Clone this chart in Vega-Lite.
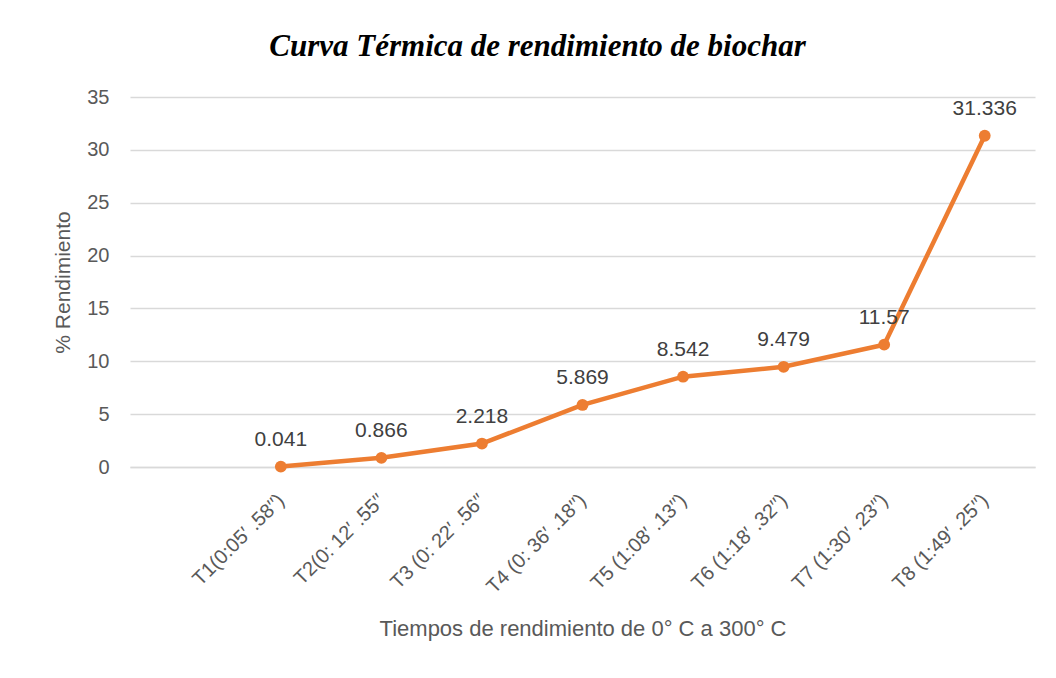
{
  "$schema": "https://vega.github.io/schema/vega-lite/v6.json",
  "width": 905,
  "height": 370,
  "autosize": {"type": "none"},
  "padding": {"left": 130, "top": 97, "right": 21, "bottom": 211},
  "background": "white",
  "config": {
    "view": {"stroke": null},
    "font": "Liberation Sans"
  },
  "title": {
    "text": "Curva Térmica de rendimiento de biochar",
    "font": "Liberation Serif",
    "fontSize": 31,
    "fontWeight": "bold",
    "fontStyle": "italic",
    "color": "#000000",
    "anchor": "middle",
    "dx": -45,
    "offset": 24
  },
  "data": {
    "values": [
      {"t": "T1(0:05′ .58′′)", "v": 0.041, "lab": "0.041"},
      {"t": "T2(0: 12′ .55′′", "v": 0.866, "lab": "0.866"},
      {"t": "T3 (0: 22′ .56′′", "v": 2.218, "lab": "2.218"},
      {"t": "T4 (0: 36′ .18′′)", "v": 5.869, "lab": "5.869"},
      {"t": "T5 (1:08′ .13′′)", "v": 8.542, "lab": "8.542"},
      {"t": "T6 (1:18′ .32′′)", "v": 9.479, "lab": "9.479"},
      {"t": "T7 (1:30′ .23′′)", "v": 11.57, "lab": "11.57"},
      {"t": "T8 (1:49′ .25′′)", "v": 31.336, "lab": "31.336"}
    ]
  },
  "encoding": {
    "x": {
      "field": "t",
      "type": "ordinal",
      "sort": null,
      "scale": {
        "domain": [" ", "T1(0:05′ .58′′)", "T2(0: 12′ .55′′", "T3 (0: 22′ .56′′", "T4 (0: 36′ .18′′)", "T5 (1:08′ .13′′)", "T6 (1:18′ .32′′)", "T7 (1:30′ .23′′)", "T8 (1:49′ .25′′)"],
        "paddingInner": 0,
        "paddingOuter": 0.5
      },
      "axis": {
        "title": "Tiempos de rendimiento de 0° C a 300° C",
        "titleFont": "Liberation Sans",
        "titleFontSize": 22,
        "titleFontWeight": "normal",
        "titleColor": "#595959",
        "titlePadding": 22,
        "labelAngle": -45,
        "labelAlign": "right",
        "labelBaseline": "middle",
        "labelFontSize": 20,
        "labelColor": "#595959",
        "labelPadding": 30,
        "labelLimit": 300,
        "ticks": false,
        "domainColor": "#D9D9D9",
        "domainWidth": 1.5,
        "grid": false
      }
    },
    "y": {
      "field": "v",
      "type": "quantitative",
      "scale": {"domain": [0, 35], "nice": false},
      "axis": {
        "title": "% Rendimiento",
        "titleFont": "Liberation Sans",
        "titleFontSize": 21,
        "titleFontWeight": "normal",
        "titleColor": "#595959",
        "titlePadding": 13,
        "values": [0, 5, 10, 15, 20, 25, 30, 35],
        "labelFontSize": 20,
        "labelColor": "#595959",
        "labelPadding": 21,
        "ticks": false,
        "domain": false,
        "gridColor": "#D9D9D9",
        "gridWidth": 1.5
      }
    }
  },
  "layer": [
    {
      "mark": {"type": "line", "color": "#ED7D31", "strokeWidth": 4.5}
    },
    {
      "mark": {"type": "point", "filled": true, "color": "#ED7D31", "size": 140, "opacity": 1}
    },
    {
      "mark": {"type": "text", "baseline": "bottom", "dy": -17, "fontSize": 21, "color": "#404040"},
      "encoding": {"text": {"field": "lab"}}
    }
  ]
}
